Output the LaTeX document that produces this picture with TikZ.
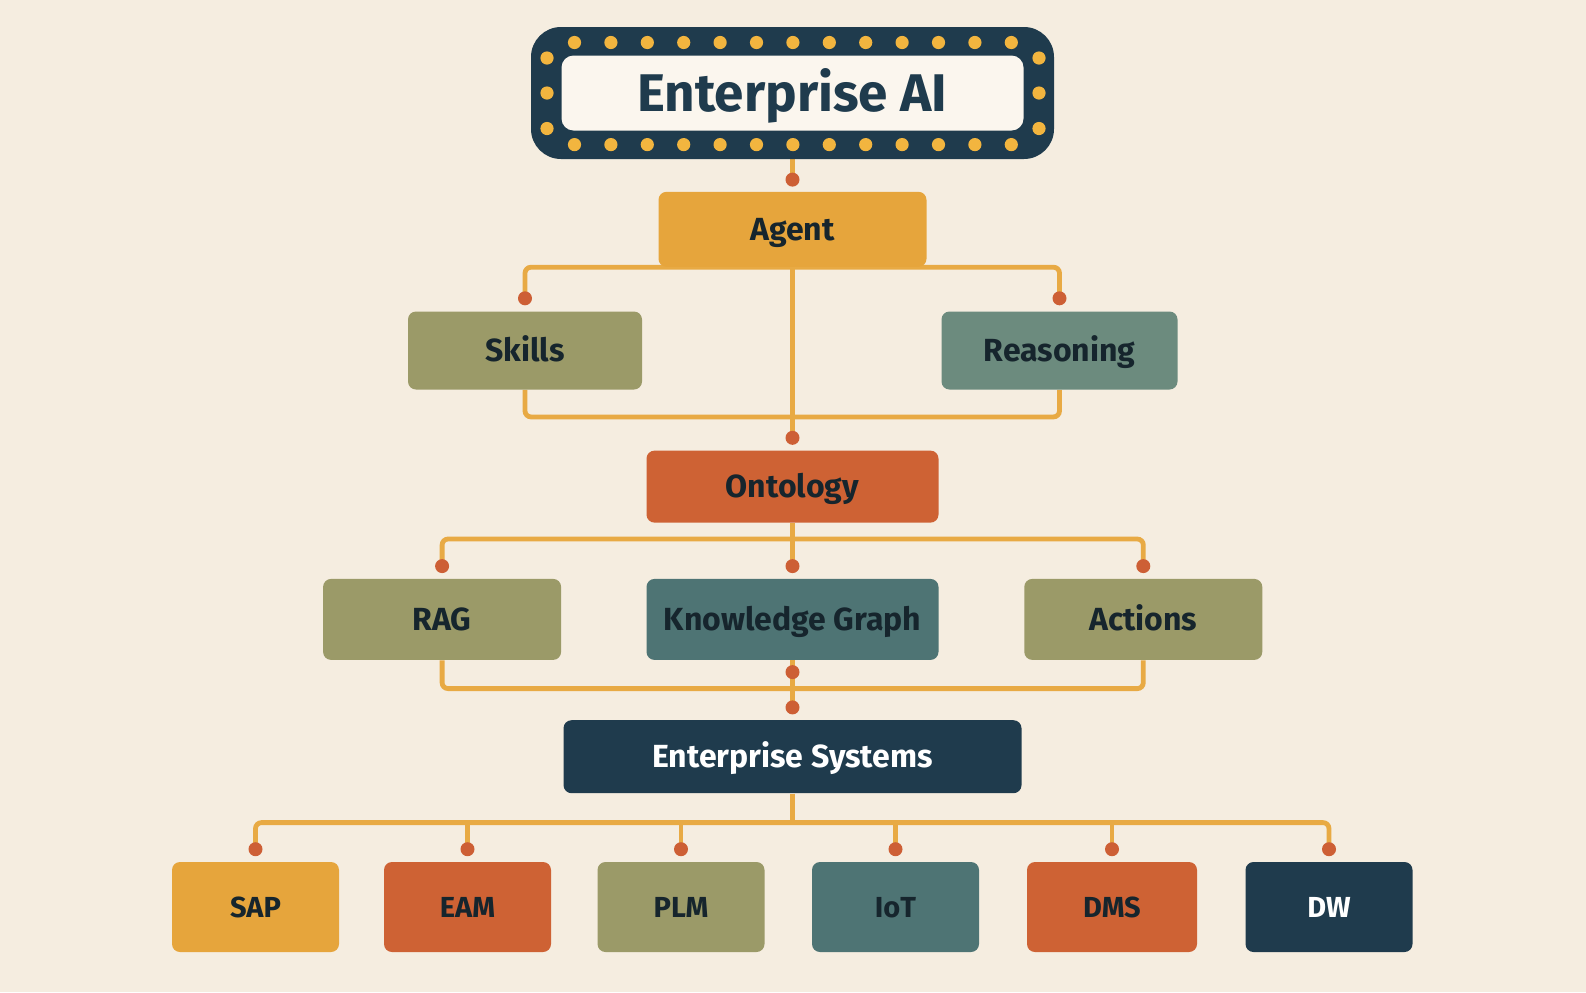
\documentclass[tikz,border=0pt]{standalone}
\usepackage{fontspec}
\setmainfont{Fira Sans}
\usetikzlibrary{positioning, calc}

\definecolor{cream}{HTML}{F5EDE0}
\definecolor{paper}{HTML}{FBF6EE}
\definecolor{gold}{HTML}{E6A53C}
\definecolor{rust}{HTML}{CE6234}
\definecolor{olive}{HTML}{9B9A68}
\definecolor{sage}{HTML}{6C8B7E}
\definecolor{teal}{HTML}{4E7474}
\definecolor{navy}{HTML}{1F3B4D}
\definecolor{ink}{HTML}{16252D}
\definecolor{wirecol}{HTML}{E8AA44}
\definecolor{pincol}{HTML}{CD5F35}
\definecolor{bulbcol}{HTML}{F2B53F}

\pgfdeclarelayer{back}
\pgfsetlayers{back,main}

\begin{document}
\begin{tikzpicture}[x=0.5pt, y=-0.5pt,
						block/.style={rectangle, rounded corners=4pt, text=ink, inner sep=0pt, text height=11pt, text depth=0pt, font=\bfseries\fontsize{16}{18}\selectfont},
						leaf/.style={block, minimum width=83.5pt, minimum height=45pt, text height=10pt, font=\bfseries\fontsize{14.5}{16}\selectfont},
						wire/.style={draw=wirecol, line width=2.4pt},
						pin/.style={circle, fill=pincol, inner sep=0pt, minimum size=7pt},]
		% marquee
		\node (marquee) [fill=navy, rounded corners=15pt, minimum width=261.5pt, minimum height=66pt] at (792.5,93) {};
		\node (title) [fill=paper, rounded corners=6pt, minimum width=231pt, minimum height=37.5pt, inner sep=0pt, text height=18pt, text depth=0pt, text=navy, font=\bfseries\fontsize{26.5}{30}\selectfont] at (marquee) {Enterprise AI};
		\foreach \i in {0,...,12} {
			\fill[bulbcol] (574.5+36.4*\i,42.5) circle (3.3pt);
			\fill[bulbcol] (574.5+36.4*\i,144.6) circle (3.3pt);
		}
		\foreach \y in {58,93,128.5} {
			\fill[bulbcol] (547,\y) circle (3.3pt);
			\fill[bulbcol] (1039,\y) circle (3.3pt);
		}

		\node (agent) [block, fill=gold, minimum width=134pt, minimum height=37.5pt, below=16pt of marquee] {Agent};
		\node (skills) [block, fill=olive, minimum width=117pt, minimum height=39pt] at (525,350.5) {Skills};
		\node (reasoning) [block, fill=sage, minimum width=118pt, minimum height=39pt] at (1059.5,350.5) {Reasoning};
		\node (ontology) [block, fill=rust, minimum width=146pt, minimum height=36pt, below=91.5pt of agent] {Ontology};
		\node (kg) [block, fill=teal, minimum width=146pt, minimum height=40.5pt, below=27.75pt of ontology] {Knowledge Graph};
		\node (rag) [block, fill=olive, minimum width=119pt, minimum height=40.5pt, left=42.3pt of kg] {RAG};
		\node (actions) [block, fill=olive, minimum width=119pt, minimum height=40.5pt, right=42.5pt of kg] {Actions};
		\node (es) [block, fill=navy, text=white, minimum width=229pt, minimum height=36.5pt, below=29.75pt of kg] {Enterprise Systems};

		\node (sap) [leaf, fill=gold] at (255.5,907) {SAP};
		\node (eam) [leaf, fill=rust] at (467.5,907) {EAM};
		\node (plm) [leaf, fill=olive] at (681,907) {PLM};
		\node (iot) [leaf, fill=teal] at (895.5,907) {IoT};
		\node (dms) [leaf, fill=rust, minimum width=85pt] at (1112,907) {DMS};
		\node (dw) [leaf, fill=navy, text=white] at (1329,907) {DW};

		% pins
		\node (pAgent) [pin, above=2.2pt of agent.north] {};
		\node (pSkills) [pin, above=2.7pt of skills.north] {};
		\node (pReasoning) [pin, above=2.7pt of reasoning.north] {};
		\node (pOntology) [pin, above=2.5pt of ontology.north] {};
		\node (pRag) [pin, above=2.5pt of rag.north] {};
		\node (pKg) [pin, above=2.5pt of kg.north] {};
		\node (pActions) [pin, above=2.5pt of actions.north] {};
		\node (pKgOut) [pin, below=2.2pt of kg.south] {};
		\node (pEs) [pin, above=2.5pt of es.north] {};
		\node (pSap) [pin, above=2.5pt of sap.north] {};
		\node (pEam) [pin, above=2.5pt of eam.north] {};
		\node (pPlm) [pin, above=2.5pt of plm.north] {};
		\node (pIot) [pin, above=2.5pt of iot.north] {};
		\node (pDms) [pin, above=2.5pt of dms.north] {};
		\node (pDw) [pin, above=2.5pt of dw.north] {};

		\coordinate (busA) at ($(agent.south)+(0,149.7)$);
		\coordinate (busB) at ($(ontology.south)+(0,16)$);
		\coordinate (busC) at ($(kg.south)+(0,28.3)$);
		\coordinate (busD) at ($(es.south)+(0,29)$);

		\begin{pgfonlayer}{back}
			\fill[cream] (0,0) rectangle (1586,992);
			\draw[wire] (marquee.south) -- (pAgent.center);
			\draw[wire, rounded corners=3pt] (pSkills.center) |- (agent.south) -| (pReasoning.center);
			\draw[wire] (agent.south) -- (pOntology.center);
			\draw[wire, rounded corners=3pt] (skills.south) |- (busA) -| (reasoning.south);
			\draw[wire, rounded corners=3pt] (pRag.center) |- (busB) -| (pActions.center);
			\draw[wire] (ontology.south) -- (pKg.center);
			\draw[wire, rounded corners=3pt] (rag.south) |- (busC) -| (actions.south);
			\draw[wire] (kg.south) -- (pEs.center);
			\draw[wire] (es.south) -- (busD);
			\draw[wire, rounded corners=3pt] (pSap.center) |- (busD) -| (pDw.center);
			\draw[wire] (pEam.center) -- (pEam.center |- busD)
						(pPlm.center) -- (pPlm.center |- busD)
						(pIot.center) -- (pIot.center |- busD)
						(pDms.center) -- (pDms.center |- busD);
		\end{pgfonlayer}
	\end{tikzpicture}
\end{document}
